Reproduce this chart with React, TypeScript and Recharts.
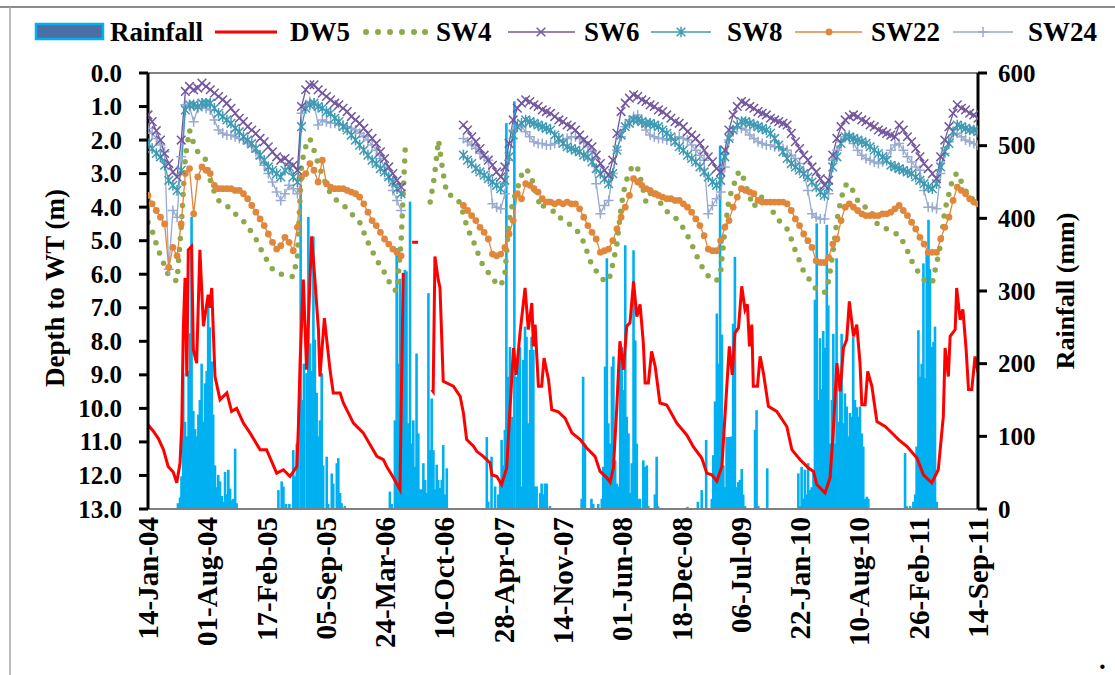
import { Bar, ComposedChart, Line, ReferenceLine, XAxis, YAxis } from "recharts";

const SERIF = "'Liberation Serif', 'Times New Roman', Times, serif";

const COLORS = {
  rain: "#00B0F0",
  rainLegend: "#4A6FA5",
  dw5: "#FF0000",
  sw4: "#8CAA4C",
  sw6: "#73579E",
  sw8: "#3F9AB3",
  sw22: "#E0873B",
  sw24: "#98AACF",
};

// days counted from 14-Jan-04
const TICK_DAYS = [0, 200, 400, 600, 800, 1000, 1200, 1400, 1600, 1800, 2000, 2200, 2400, 2600, 2800];
const TICK_LABELS = [
  "14-Jan-04", "01-Aug-04", "17-Feb-05", "05-Sep-05", "24-Mar-06", "10-Oct-06", "28-Apr-07", "14-Nov-07",
  "01-Jun-08", "18-Dec-08", "06-Jul-09", "22-Jan-10", "10-Aug-10", "26-Feb-11", "14-Sep-11",
];
const DEPTH_TICKS = [0, 1, 2, 3, 4, 5, 6, 7, 8, 9, 10, 11, 12, 13];
const RAIN_TICKS = [0, 100, 200, 300, 400, 500, 600];

// shallow wells, read every 14 days (null = no reading)
const STEP = 14;
const N = null;

const SW4 = [
  4.45, 4.7, 5.1, 5.45, 5.75, 6.05, 6.15, 6.2, 4.6, 2.5,
  1.7, 2.1, 2.35, 2.45, 2.6, 3.2, 3.55, 3.8, 3.9, 3.95,
  4.1, 4.2, 4.3, 4.42, 4.6, 4.75, 4.95, 5.2, 5.45, 5.65,
  5.85, 5.95, 6.0, 6.02, 6.05, 6.07, 5.5, 2.7, 2.2, 1.95,
  2.3, 2.7, 3.05, 3.35, 3.6, 3.75, 3.85, 3.93, 4.05, 4.2,
  4.3, 4.45, 4.75, 5.05, 5.3, 5.55, 5.75, 5.95, 6.2, 6.45,
  6.5, 5.0, 2.2, N, N, N, N, N, 3.85, 3.1,
  2.0, 2.9, 3.6, 3.65, 3.7, 3.85, 4.2, 4.65, 4.9, 5.2,
  5.55, 5.8, 5.95, 6.15, 6.25, 6.35, 6.0, 4.4, 3.8, 3.45,
  3.05, 2.85, 3.0, 3.35, 3.8, 4.05, 3.75, 3.9, 4.25, 4.3,
  4.35, 4.45, 4.55, 4.65, 4.8, 5.05, 5.4, 5.75, 5.9, 6.07,
  6.2, 6.2, 5.7, 5.1, 4.0, 3.3, 2.95, 2.73, 2.85, 3.3,
  3.85, 3.6, 3.45, 3.75, 4.0, 4.13, 4.2, 4.3, 4.45, 4.62,
  4.85, 5.1, 5.4, 5.65, 5.9, 6.05, 6.15, 6.2, 5.9, 4.7,
  3.75, 3.4, 3.0, 2.93, 3.35, 3.7, 4.0, 3.75, 3.7, 3.68,
  3.95, 4.25, 4.4, 4.5, 4.65, 4.95, 5.3, 5.6, 5.92, 6.1,
  6.25, 6.45, 6.5, 6.55, 6.2, 5.4, 4.4, 3.75, 3.35, 3.3,
  3.55, 3.8, 3.98, 4.0, 4.03, 4.35, 4.55, 4.6, 4.65, 4.72,
  4.78, 4.82, 5.05, 5.3, 5.6, 5.82, 6.0, 6.17, 6.22, 6.26,
  5.7, 5.1, 4.1, 3.6, 3.1, 2.98, 3.25, 3.5, 3.75, 3.75,
  3.7,
];

const SW6 = [
  1.25, 1.45, 1.72, 2.0, 2.4, 2.7, 2.95, 3.1, 2.0, 0.55,
  0.4, 0.5, 0.45, 0.3, 0.4, 0.5, 0.6, 0.7, 0.8, 0.9,
  1.05, 1.2, 1.35, 1.45, 1.6, 1.7, 1.8, 1.95, 2.05, 2.2,
  2.35, 2.5, 2.6, 2.55, 2.65, 2.75, 2.9, 1.0, 0.5, 0.35,
  0.35, 0.5, 0.6, 0.7, 0.8, 0.9, 0.95, 1.05, 1.15, 1.3,
  1.4, 1.5, 1.65, 1.8, 1.95, 2.1, 2.35, 2.55, 2.8, 3.0,
  3.2, 3.4, N, N, N, N, N, N, N, N,
  N, N, N, N, N, N, 1.55, 1.7, 1.9, 2.05,
  2.25, 2.45, 2.6, 2.75, 2.95, 3.1, 2.8, 2.1, 1.4, 1.05,
  0.9, 0.8, 0.85, 0.95, 1.0, 1.1, 1.15, 1.2, 1.3, 1.4,
  1.45, 1.55, 1.6, 1.7, 1.85, 2.0, 2.1, 2.2, 2.45, 2.7,
  2.9, 3.05, 2.6, 1.8, 1.15, 0.9, 0.75, 0.65, 0.7, 0.8,
  0.85, 0.95, 1.0, 1.1, 1.15, 1.25, 1.35, 1.45, 1.5, 1.6,
  1.75, 1.85, 1.95, 2.1, 2.3, 2.5, 2.65, 2.85, 2.95, 2.3,
  1.7, 1.25, 1.0, 0.85, 0.9, 1.0, 1.05, 1.15, 1.2, 1.25,
  1.35, 1.4, 1.45, 1.5, 1.55, 1.8, 2.05, 2.25, 2.45, 2.6,
  2.8, 2.95, 3.15, 3.35, 3.2, 2.45, 1.95, 1.6, 1.4, 1.3,
  1.25, 1.3, 1.4, 1.45, 1.55, 1.6, 1.7, 1.75, 1.8, 1.85,
  1.9, 1.55, 1.7, 1.9, 2.05, 2.25, 2.5, 2.7, 2.85, 3.0,
  3.15, 2.5, 2.0, 1.6, 1.2, 0.95, 1.05, 1.1, 1.2, 1.25,
  1.35,
];

const SW8 = [
  2.1, 2.25, 2.4, 2.5, 2.75, 3.2, 3.35, 3.5, 2.9, 1.1,
  0.95, 0.95, 1.0, 0.9, 0.9, 0.9, 1.05, 1.2, 1.3, 1.4,
  1.5, 1.65, 1.75, 1.9, 2.0, 2.1, 2.25, 2.45, 2.6, 2.8,
  2.9, 3.0, 3.1, 2.9, 2.8, 3.1, 3.25, 1.6, 1.05, 0.95,
  0.9, 1.0, 1.05, 1.15, 1.2, 1.35, 1.45, 1.6, 1.7, 1.85,
  2.0, 2.15, 2.3, 2.45, 2.6, 2.7, 2.85, 2.95, 3.1, 3.25,
  3.45, 3.6, N, N, N, N, N, N, N, N,
  N, N, N, N, N, N, 2.45, 2.6, 2.7, 2.85,
  2.95, 3.05, 3.15, 3.25, 3.35, 3.45, 3.2, 2.5, 1.85, 1.6,
  1.5, 1.4, 1.45, 1.5, 1.55, 1.6, 1.65, 1.7, 1.85, 1.95,
  2.1, 2.2, 2.25, 2.3, 2.35, 2.45, 2.5, 2.65, 2.85, 3.0,
  3.15, 3.3, 3.0, 2.3, 1.85, 1.6, 1.5, 1.4, 1.4, 1.45,
  1.5, 1.5, 1.55, 1.6, 1.7, 1.8, 1.9, 2.05, 2.2, 2.3,
  2.45, 2.55, 2.65, 2.8, 2.95, 3.1, 3.25, 3.35, 3.2, 2.5,
  1.95, 1.7, 1.55, 1.45, 1.45, 1.5, 1.55, 1.6, 1.65, 1.7,
  1.8, 1.95, 2.15, 2.35, 2.55, 2.7, 2.8, 2.9, 3.0, 3.1,
  3.25, 3.4, 3.55, 3.65, 3.4, 2.8, 2.5, 2.1, 1.9, 1.9,
  1.95, 2.0, 2.05, 2.1, 2.2, 2.3, 2.4, 2.5, 2.6, 2.75,
  2.8, 2.85, 2.9, 2.95, 3.0, 3.1, 3.2, 3.3, 3.4, 3.45,
  3.3, 2.8, 2.35, 2.1, 1.75, 1.55, 1.6, 1.65, 1.7, 1.7,
  1.75,
];

const SW22 = [
  3.65, 3.9, 4.1, 4.3, 4.5, 5.8, 5.2, 5.45, 4.5, 3.0,
  2.85, 4.2, 3.1, 2.8, 2.9, 3.0, 3.35, 3.45, 3.45, 3.45,
  3.45, 3.5, 3.5, 3.6, 3.75, 3.95, 4.15, 4.35, 4.55, 4.8,
  5.05, 5.25, 5.15, 4.9, 5.05, 5.3, 4.6, 3.1, 3.0, 2.7,
  2.9, 3.25, 2.6, 3.3, 3.4, 3.45, 3.45, 3.45, 3.5, 3.55,
  3.6, 3.7, 3.9, 4.15, 4.4, 4.55, 4.75, 4.95, 5.1, 5.25,
  5.35, 5.45, N, N, N, N, N, N, N, N,
  N, N, N, N, N, N, 3.95, 4.1, 4.25, 4.4,
  4.6, 4.75, 4.95, 5.4, 5.45, 5.4, 5.2, 4.8, 4.4, 3.6,
  3.75, 3.3, 3.35, 3.45, 3.55, 3.75, 3.85, 3.85, 3.9, 3.85,
  3.9, 3.85, 3.9, 3.9, 4.05, 4.3, 4.55, 4.75, 4.95, 5.35,
  5.3, 5.25, 5.0, 4.65, 4.3, 4.0, 3.65, 3.15, 3.25, 3.35,
  3.45, 3.5, 3.6, 3.65, 3.7, 3.75, 3.75, 3.8, 3.8, 3.9,
  4.0, 4.15, 4.35, 4.55, 4.85, 5.25, 5.3, 5.3, 5.0, 4.6,
  4.4, 4.0, 3.7, 3.45, 3.5, 3.55, 3.6, 3.8, 3.85, 3.85,
  3.85, 3.85, 3.85, 3.85, 3.9, 4.1, 4.35, 4.55, 4.8, 5.0,
  5.2, 5.6, 5.65, 5.65, 5.5, 5.1, 4.95, 4.4, 4.0, 3.9,
  4.0, 4.1, 4.2, 4.25, 4.25, 4.25, 4.25, 4.2, 4.2, 4.15,
  4.05, 3.95, 4.1, 4.25, 4.45, 4.65, 4.9, 5.1, 5.35, 5.35,
  5.35, 4.95, 4.6, 4.3, 3.8, 3.4, 3.5, 3.6, 3.75, 3.85,
  3.9,
];

const SW24 = [
  1.65, 1.8, 1.95, 2.15, 2.35, 5.85, 4.1, 4.3, 2.5, 0.95,
  1.0, 1.45, 1.05, 1.0, 1.05, 1.1, 1.4, 1.7, 1.8, 1.85,
  1.85, 1.9, 1.95, 2.0, 2.1, 2.2, 2.35, 2.55, 2.75, 3.0,
  3.25, 3.55, 3.8, 3.6, 3.35, 3.45, 3.6, 1.2, 0.95, 0.85,
  0.9, 1.55, 1.4, 1.45, 1.5, 1.5, 1.55, 1.55, 1.6, 1.65,
  1.7, 1.8, 1.9, 2.0, 2.15, 2.3, 2.55, 2.8, 3.15, 3.5,
  3.8, 4.1, N, N, N, N, N, N, N, N,
  N, N, N, N, N, N, 1.95, 2.05, 2.15, 2.25,
  2.4, 2.5, 2.6, 3.9, 4.0, 4.05, 3.6, 2.6, 1.7, 1.55,
  1.6, 1.75, 1.9, 2.05, 2.1, 2.1, 2.15, 2.15, 2.1, 2.05,
  2.0, 1.95, 1.9, 1.9, 1.95, 2.05, 2.2, 2.35, 3.3, 4.2,
  3.95, 3.8, 3.0, 2.3, 1.9, 1.6, 1.4, 1.3, 1.25, 1.5,
  1.7, 1.85, 1.9, 1.95, 1.95, 2.0, 2.0, 1.95, 1.9, 1.95,
  2.0, 2.15, 2.3, 2.45, 2.6, 4.2, 3.95, 3.75, 3.55, 2.8,
  2.0, 1.75, 1.6, 1.65, 1.7, 1.85, 1.95, 2.05, 2.1, 2.15,
  2.15, 2.2, 2.2, 2.25, 2.3, 2.45, 2.55, 2.7, 2.95, 3.5,
  4.2, 4.3, 4.35, 4.35, 3.6, 2.6, 2.3, 2.05, 1.9, 1.85,
  2.1, 2.3, 2.45, 2.55, 2.6, 2.65, 2.7, 2.65, 2.5, 2.3,
  2.15, 2.1, 2.3, 2.5, 2.65, 2.8, 2.9, 3.5, 4.0, 4.0,
  4.05, 3.0, 2.4, 2.05, 1.85, 1.8, 1.9, 2.0, 2.05, 2.1,
  2.15,
];

// deep well DW5: [day, depth m]; null rows break the line
const DW5 = [
  [0, 10.49], [18, 10.68], [35, 10.9], [52, 11.23], [68, 11.73], [85, 11.9], [97, 12.22], [108, 11.63],
  [114, 10.5], [119, 7.65], [125, 6.11], [131, 9.05], [136, 5.27], [147, 5.17], [153, 8.25], [164, 8.65],
  [175, 5.27], [187, 7.55], [203, 6.61], [209, 7.0], [215, 6.41], [226, 9.05], [243, 9.74], [266, 9.54],
  [282, 10.09], [299, 10.0], [322, 10.44], [344, 10.73], [378, 11.23], [400, 11.23], [434, 11.93], [457, 11.83],
  [479, 12.03], [502, 11.73], [507, 10.64], [513, 8.65], [524, 6.16], [535, 8.85], [552, 4.87], [563, 6.16],
  [575, 7.65], [580, 9.05], [595, 7.31], [614, 8.85], [625, 9.54], [648, 9.54], [659, 9.84], [693, 10.44],
  [726, 10.73], [772, 11.43], [794, 11.53], [805, 11.73], [828, 12.07], [850, 12.42], [861, 5.96], [875, null],
  [891, 5.05], [911, 5.05], [930, null],
  [957, 9.44], [962, 9.5], [968, 5.47], [979, 6.16], [985, 6.4], [996, 9.19], [1030, 9.34], [1053, 9.64],
  [1064, 10.14], [1075, 10.93], [1098, 11.13], [1109, 11.28], [1131, 11.43], [1154, 11.63], [1160, 11.98],
  [1177, 12.03], [1193, 12.27], [1210, 11.78], [1221, 10.04], [1233, 8.2], [1242, 9.0], [1255, 7.75],
  [1272, 6.41], [1283, 7.65], [1295, 6.86], [1300, 8.15], [1306, 7.5], [1317, 9.34], [1328, 9.34], [1336, 8.5],
  [1351, 9.14], [1362, 10.04], [1384, 10.1], [1407, 10.29], [1430, 10.73], [1458, 10.93], [1480, 11.18],
  [1508, 11.43], [1525, 11.88], [1548, 12.07], [1559, 12.2], [1570, 11.78], [1581, 10.04], [1592, 8.0],
  [1604, 8.85], [1615, 7.55], [1626, 7.45], [1638, 6.21], [1649, 7.26], [1660, 6.9], [1671, 8.05], [1677, 9.24],
  [1688, 9.24], [1699, 8.3], [1711, 8.75], [1727, 9.84], [1750, 9.9], [1784, 10.44], [1818, 10.8], [1840, 11.15],
  [1868, 11.48], [1885, 11.93], [1902, 11.98], [1919, 12.17], [1936, 11.73], [1947, 10.14], [1961, 8.15],
  [1971, 9.0], [1980, 7.75], [1992, 7.6], [2003, 6.36], [2014, 7.06], [2022, 6.9], [2029, 8.15], [2037, 7.5],
  [2042, 9.34], [2056, 9.34], [2065, 8.45], [2076, 8.94], [2093, 9.94], [2121, 10.09], [2155, 10.54],
  [2172, 11.23], [2200, 11.53], [2228, 11.78], [2245, 11.88], [2256, 12.27], [2284, 12.52], [2301, 12.07],
  [2312, 10.64], [2324, 8.65], [2335, 9.49], [2346, 8.2], [2357, 7.95], [2366, 6.81], [2380, 7.85], [2391, 7.5],
  [2402, 8.65], [2408, 9.89], [2419, 9.89], [2428, 8.9], [2442, 9.34], [2459, 10.39], [2487, 10.54],
  [2515, 10.78], [2532, 10.93], [2560, 11.13], [2594, 11.48], [2616, 11.98], [2644, 12.22], [2666, 11.83],
  [2683, 10.24], [2689, 8.2], [2700, 9.05], [2706, 7.85], [2723, 7.65], [2728, 6.41], [2740, 7.36],
  [2749, 7.05], [2760, 8.25], [2768, 9.44], [2779, 9.44], [2790, 8.45], [2800, 8.94],
];

// rainfall: [day, mm]
const RAINFALL = [
  [101, 8], [108, 16], [113, 45], [119, 187], [125, 120], [131, 100], [137, 190], [142, 242], [147, 402],
  [153, 135], [159, 110], [164, 100], [170, 130], [175, 150], [181, 200], [187, 120], [192, 173], [198, 190],
  [203, 280], [209, 250], [215, 203], [220, 130], [226, 60], [232, 30], [237, 47], [243, 38], [249, 18],
  [254, 10], [260, 51], [265, 20], [271, 54], [277, 28], [282, 12], [288, 14], [294, 83], [299, 8],
  [440, 26], [451, 38], [457, 31], [466, 7], [477, 7], [490, 81], [496, 45], [502, 90], [507, 110], [515, 445],
  [521, 150], [526, 200], [535, 187], [541, 402], [547, 228], [552, 190], [558, 375], [563, 233], [569, 160],
  [575, 100], [580, 122], [586, 187], [591, 60], [603, 72], [608, 7], [620, 49], [625, 35], [637, 63], [642, 70],
  [648, 22], [653, 8], [664, 4],
  [816, 24], [822, 7], [833, 122], [839, 359], [844, 200], [850, 317], [856, 120], [861, 301], [867, 329],
  [872, 327], [878, 118], [884, 423], [889, 90], [895, 122], [901, 58], [906, 214], [912, 104], [918, 27],
  [923, 27], [929, 63], [935, 40], [940, 22], [946, 297], [951, 81], [957, 152], [963, 81], [968, 27], [974, 61],
  [979, 40], [985, 29], [991, 40], [996, 88], [1002, 20], [1008, 56],
  [1143, 99], [1148, 10], [1159, 72], [1171, 31], [1182, 20], [1188, 38], [1193, 95], [1199, 60], [1204, 109],
  [1209, 531], [1215, 182], [1221, 223], [1227, 127], [1236, 561], [1244, 182], [1249, 214], [1255, 223],
  [1261, 31], [1266, 205], [1272, 251], [1277, 237], [1283, 118], [1289, 219], [1294, 237], [1300, 219],
  [1306, 31], [1311, 31], [1323, 22], [1328, 35], [1334, 20], [1339, 35], [1345, 35], [1356, 4],
  [1463, 14], [1468, 182], [1474, 90], [1496, 14], [1502, 7], [1519, 7],
  [1531, 14], [1536, 58], [1542, 196], [1548, 345], [1553, 118], [1559, 90], [1565, 196], [1570, 210],
  [1576, 67], [1582, 35], [1587, 31], [1593, 228], [1598, 223], [1604, 164], [1610, 363], [1615, 127],
  [1621, 104], [1627, 22], [1632, 63], [1638, 356], [1644, 232], [1649, 90], [1655, 14], [1660, 14], [1671, 67],
  [1677, 58], [1683, 60], [1688, 4], [1710, 20], [1716, 72], [1721, 4],
  [1820, 3], [1855, 10],
  [1868, 26], [1883, 95], [1902, 14], [1907, 74], [1913, 148], [1919, 269], [1924, 200], [1930, 500],
  [1936, 240], [1941, 60], [1947, 30], [1952, 99], [1958, 99], [1963, 99], [1969, 100], [1974, 255],
  [1980, 347], [1986, 30], [1991, 37], [1997, 40], [2003, 55], [2008, 20], [2014, 4], [2048, 109], [2053, 136],
  [2059, 4], [2089, 56],
  [2194, 49], [2199, 4], [2205, 58], [2211, 14], [2216, 54], [2222, 20], [2227, 63], [2233, 26], [2239, 30],
  [2245, 50], [2250, 288], [2256, 393], [2261, 150], [2267, 235], [2273, 165], [2278, 245], [2284, 222],
  [2290, 391], [2295, 280], [2301, 90], [2307, 150], [2312, 241], [2318, 90], [2323, 345], [2329, 120],
  [2335, 178], [2340, 241], [2346, 118], [2351, 159], [2357, 141], [2363, 100], [2368, 132], [2374, 127],
  [2379, 237], [2385, 150], [2391, 140], [2396, 127], [2402, 141], [2408, 104], [2413, 86], [2419, 14],
  [2425, 17], [2430, 14],
  [2554, 77], [2559, 4], [2571, 4], [2582, 10], [2588, 20], [2593, 86], [2599, 246], [2605, 182], [2610, 200],
  [2616, 338], [2621, 180], [2627, 356], [2633, 398], [2638, 330], [2644, 223], [2650, 230], [2655, 251],
  [2661, 10],
];

const rainRows = RAINFALL.map(([day, mm]) => ({ day, rain: mm }));
const dw5Rows = DW5.map(([day, v]) => ({ day, v }));
const wellRows = (vals: (number | null)[]) => vals.map((v, i) => ({ day: i * STEP, v }));

const mark = (kind: string, color: string) => (p: any) => {
  const { cx, cy, index } = p;
  const key = `${kind}-${index}`;
  if (cx == null || cy == null || p.value == null || (Array.isArray(p.value) && p.value[1] == null)) return <g key={key} />;
  if (kind === "circle") return <circle key={key} cx={cx} cy={cy} r={3.4} fill={color} stroke="none" />;
  const s = kind === "plus" ? 5 : 4.3;
  let d = "";
  if (kind === "x") d = `M${cx - s},${cy - s}L${cx + s},${cy + s}M${cx - s},${cy + s}L${cx + s},${cy - s}`;
  if (kind === "star")
    d = `M${cx - s},${cy - s}L${cx + s},${cy + s}M${cx - s},${cy + s}L${cx + s},${cy - s}M${cx},${cy - s - 1}L${cx},${cy + s + 1}`;
  if (kind === "plus") d = `M${cx - s},${cy}L${cx + s},${cy}M${cx},${cy - s}L${cx},${cy + s}`;
  return <path key={key} d={d} stroke={color} strokeWidth={1.5} fill="none" />;
};

// thin rain bar centred on its day
const RainBar = (p: any) => {
  if (p.height == null || p.height <= 0) return <g />;
  const cx = p.x + p.width / 2;
  return <rect x={cx - 1.3} y={p.y} width={2.6} height={p.height} fill={COLORS.rain} />;
};

const textStyle = { fontFamily: SERIF, fontWeight: 700, fill: "#000" } as const;

const LeftTick = (p: any) => (
  <text x={122} y={p.y} textAnchor="end" dominantBaseline="central" fontSize={25} {...textStyle}>
    {Number(p.payload.value).toFixed(1)}
  </text>
);

const RightTick = (p: any) => (
  <text x={998} y={p.y} textAnchor="start" dominantBaseline="central" fontSize={25} {...textStyle}>
    {p.payload.value}
  </text>
);

const XTick = (p: any) => (
  <text
    transform={`translate(${p.x},517) rotate(-90)`}
    textAnchor="end"
    dominantBaseline="central"
    fontSize={29}
    {...textStyle}
  >
    {TICK_LABELS[TICK_DAYS.indexOf(p.payload.value)]}
  </text>
);

function Legend() {
  const y = 32;
  const ty = 41;
  const t = (x: number, s: string) => (
    <text x={x} y={ty} fontSize={27} {...textStyle}>
      {s}
    </text>
  );
  return (
    <g>
      <rect x={36} y={24} width={67} height={15} fill={COLORS.rainLegend} stroke={COLORS.rain} strokeWidth={2.5} />
      {t(110, "Rainfall")}
      <line x1={215} x2={277} y1={y} y2={y} stroke={COLORS.dw5} strokeWidth={3} />
      {t(290, "DW5")}
      {[366, 378, 390, 402, 414, 425].map((cx) => (
        <circle key={cx} cx={cx} cy={y} r={3} fill={COLORS.sw4} />
      ))}
      {t(436, "SW4")}
      <line x1={508} x2={575} y1={y} y2={y} stroke={COLORS.sw6} strokeWidth={1.5} />
      {mark("x", COLORS.sw6)({ cx: 541, cy: y, index: 0, value: 1 })}
      {t(584, "SW6")}
      <line x1={651} x2={711} y1={y} y2={y} stroke={COLORS.sw8} strokeWidth={1.5} />
      {mark("star", COLORS.sw8)({ cx: 681, cy: y, index: 0, value: 1 })}
      {t(727, "SW8")}
      <line x1={795} x2={862} y1={y} y2={y} stroke={COLORS.sw22} strokeWidth={1.5} />
      {mark("circle", COLORS.sw22)({ cx: 829, cy: y, index: 0, value: 1 })}
      {t(871, "SW22")}
      <line x1={953} x2={1013} y1={y} y2={y} stroke={COLORS.sw24} strokeWidth={1.5} />
      {mark("plus", COLORS.sw24)({ cx: 983, cy: y, index: 0, value: 1 })}
      {t(1028, "SW24")}
    </g>
  );
}

export default function App() {
  return (
    <div style={{ position: "fixed", left: 0, top: 0, width: 1115, height: 675, background: "#fff" }}>
      <ComposedChart
        width={1115}
        height={675}
        data={rainRows}
        margin={{ top: 73, right: 0, bottom: 0, left: 0 }}
      >
        <XAxis
          xAxisId="t"
          dataKey="day"
          type="number"
          domain={[0, 2800]}
          ticks={TICK_DAYS}
          interval={0}
          allowDataOverflow
          height={166}
          tick={XTick}
          tickLine={false}
          axisLine={{ stroke: "#7f7f7f", strokeWidth: 2 }}
        />
        <YAxis
          yAxisId="depth"
          orientation="left"
          width={148}
          domain={[0, 13]}
          reversed
          ticks={DEPTH_TICKS}
          interval={0}
          allowDataOverflow
          tick={LeftTick}
          tickSize={9}
          tickLine={{ stroke: "#000", strokeWidth: 3 }}
          axisLine={{ stroke: "#000", strokeWidth: 3 }}
        />
        <YAxis
          yAxisId="rain"
          orientation="right"
          width={137}
          domain={[0, 600]}
          ticks={RAIN_TICKS}
          interval={0}
          allowDataOverflow
          tick={RightTick}
          tickSize={9}
          tickLine={{ stroke: "#000", strokeWidth: 3 }}
          axisLine={{ stroke: "#000", strokeWidth: 3 }}
        />
        <ReferenceLine xAxisId="t" yAxisId="depth" y={0} stroke="#808080" strokeWidth={2} />
        <Bar
          xAxisId="t"
          yAxisId="rain"
          dataKey="rain"
          fill={COLORS.rain}
          barSize={2}
          shape={RainBar}
          isAnimationActive={false}
        />
        <Line
          xAxisId="t"
          yAxisId="depth"
          data={dw5Rows}
          dataKey="v"
          stroke={COLORS.dw5}
          strokeWidth={3}
          dot={false}
          type="linear"
          isAnimationActive={false}
        />
        <Line
          xAxisId="t"
          yAxisId="depth"
          data={wellRows(SW4)}
          dataKey="v"
          stroke={COLORS.sw4}
          strokeWidth={5.5}
          strokeLinecap="round"
          strokeDasharray="0 11"
          dot={false}
          type="linear"
          isAnimationActive={false}
        />
        <Line
          xAxisId="t"
          yAxisId="depth"
          data={wellRows(SW24)}
          dataKey="v"
          stroke={COLORS.sw24}
          strokeWidth={1.3}
          dot={mark("plus", COLORS.sw24)}
          type="linear"
          isAnimationActive={false}
        />
        <Line
          xAxisId="t"
          yAxisId="depth"
          data={wellRows(SW22)}
          dataKey="v"
          stroke={COLORS.sw22}
          strokeWidth={1.3}
          dot={mark("circle", COLORS.sw22)}
          type="linear"
          isAnimationActive={false}
        />
        <Line
          xAxisId="t"
          yAxisId="depth"
          data={wellRows(SW8)}
          dataKey="v"
          stroke={COLORS.sw8}
          strokeWidth={1.3}
          dot={mark("star", COLORS.sw8)}
          type="linear"
          isAnimationActive={false}
        />
        <Line
          xAxisId="t"
          yAxisId="depth"
          data={wellRows(SW6)}
          dataKey="v"
          stroke={COLORS.sw6}
          strokeWidth={1.3}
          dot={mark("x", COLORS.sw6)}
          type="linear"
          isAnimationActive={false}
        />
      </ComposedChart>
      <svg
        width={1115}
        height={675}
        style={{ position: "absolute", left: 0, top: 0, pointerEvents: "none" }}
      >
        <line x1={0} x2={1115} y1={7} y2={7} stroke="#8c8c8c" strokeWidth={2} />
        <line x1={10} x2={10} y1={7} y2={675} stroke="#a6a6a6" strokeWidth={1.5} />
        <Legend />
        <text
          transform="translate(55,288) rotate(-90)"
          textAnchor="middle"
          dominantBaseline="central"
          fontSize={27}
          {...textStyle}
        >
          Depth to WT (m)
        </text>
        <text
          transform="translate(1065,291) rotate(-90)"
          textAnchor="middle"
          dominantBaseline="central"
          fontSize={26}
          {...textStyle}
        >
          Rainfall (mm)
        </text>
        <text x={1099} y={669} fontSize={27} {...textStyle}>
          .
        </text>
      </svg>
    </div>
  );
}
